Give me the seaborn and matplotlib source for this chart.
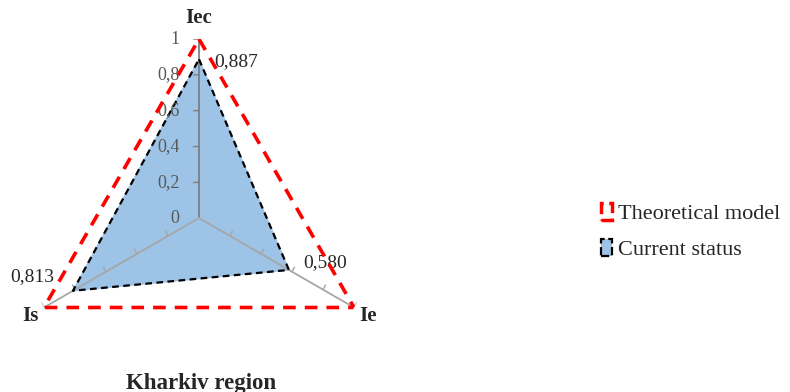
import numpy as np
import matplotlib
matplotlib.use("Agg")
import matplotlib.pyplot as plt
import seaborn as sns
from matplotlib.patches import Patch

# dados do gráfico
indicadores = ["Iec", "Ie", "Is"]
modelo_teorico = [1.0, 1.0, 1.0]
estado_atual = [0.887, 0.580, 0.813]
rotulos_atual = ["0,887", "0,580", "0,813"]
r_ticks = [0, 0.2, 0.4, 0.6, 0.8, 1.0]
r_rotulos = ["0", "0,2", "0,4", "0,6", "0,8", "1"]

sns.set_style("white")
plt.rcParams["font.family"] = ["Liberation Serif", "DejaVu Serif"]

cor_azul = "#9DC3E6"
cor_vermelho = "#FF0000"
cor_cinza = "#A6A6A6"

fig = plt.figure(figsize=(7.9, 3.92), dpi=100)
ax = fig.add_axes([0.0253, -0.0128, 0.4532, 0.9133], projection="polar")
ax.set_theta_offset(np.pi / 2)
ax.set_theta_direction(-1)
ax.set_ylim(0, 1)
ax.spines["polar"].set_visible(False)
ax.grid(False)
ax.set_xticks([])
ax.set_yticks([])
ax.patch.set_alpha(0)

angulos = np.linspace(0, 2 * np.pi, len(indicadores), endpoint=False)
ang_fechado = np.append(angulos, angulos[0])

# estado atual
est = np.append(estado_atual, estado_atual[0])
ax.fill(ang_fechado, est, color=cor_azul, zorder=1)

# eixos (raios) com marcas, por cima do preenchimento
for i, a in enumerate(angulos):
    cor = "#7F7F7F" if i == 0 else cor_cinza
    ax.plot([a, a], [0, 1], color=cor, lw=1.3, zorder=2)
    lado = -1 if i != 2 else 1
    for r in r_ticks[1:]:
        d = 0.03 / r
        ax.plot([a, a + lado * d], [r, r], color=cor, lw=1.0, zorder=2)

ax.plot(ang_fechado, est, color="black", lw=1.6, ls=(0, (3, 2)), zorder=3)

# modelo teórico
mod = np.append(modelo_teorico, modelo_teorico[0])
ax.plot(ang_fechado, mod, color=cor_vermelho, lw=2.6, ls=(0, (3.5, 2.5)), zorder=4)

# rótulos do eixo radial
for r, txt in zip(r_ticks, r_rotulos):
    ax.annotate(txt, (0, r), xytext=(-14, 0), textcoords="offset points",
                ha="right", va="center", fontsize=13, color="#595959")

# nomes dos indicadores
desloc_nomes = [(0, 8), (4, -6), (-4, -6)]
alin_nomes = [("center", "bottom"), ("left", "center"), ("right", "center")]
for a, nome, d, (ha, va) in zip(angulos, indicadores, desloc_nomes, alin_nomes):
    ax.annotate(nome, (a, 1), xytext=d, textcoords="offset points",
                ha=ha, va=va, fontsize=15, fontweight="bold")

# valores do estado atual
desloc_val = [(27, -2), (26, 5), (-29, 10)]
for a, v, txt, d in zip(angulos, estado_atual, rotulos_atual, desloc_val):
    ax.annotate(txt, (a, v), xytext=d, textcoords="offset points",
                ha="center", va="center", fontsize=14)

fig.text(201 / 790, 1 - 383 / 392, "Kharkiv region", ha="center", va="center",
         fontsize=16.5, fontweight="bold")

handles = [
    Patch(facecolor="none", edgecolor=cor_vermelho, lw=2.5, ls="--"),
    Patch(facecolor=cor_azul, edgecolor="black", lw=1.6, ls="--"),
]
fig.legend(handles, ["Theoretical model", "Current status"], loc="center left",
           bbox_to_anchor=(0.735, 0.41), frameon=False, fontsize=16,
           handlelength=0.5, handleheight=0.85, handletextpad=0.3, labelspacing=0.65)

fig.savefig("out.png", dpi=100)
